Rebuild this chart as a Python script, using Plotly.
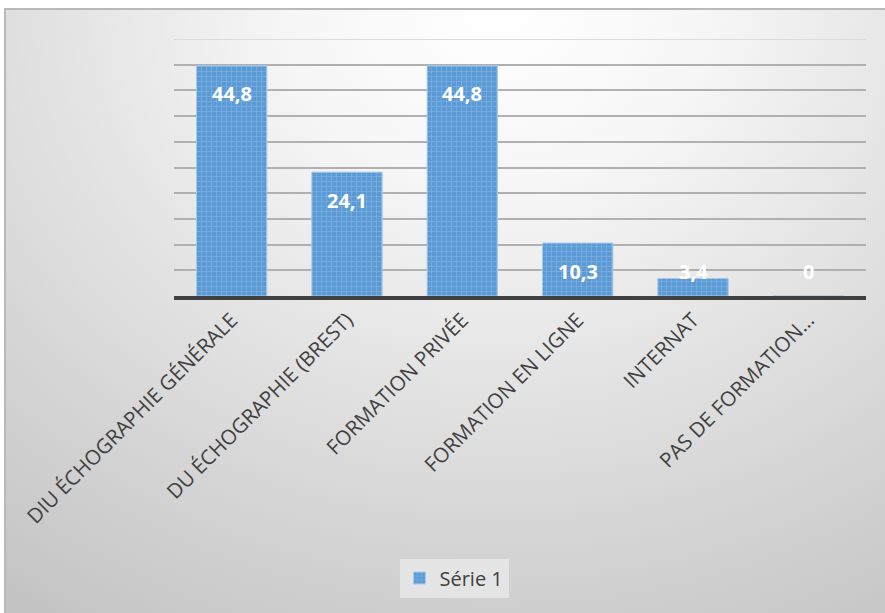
import base64
import plotly.graph_objects as go

categories = ["DIU ÉCHOGRAPHIE GÉNÉRALE", "DU ÉCHOGRAPHIE (BREST)", "FORMATION PRIVÉE",
              "FORMATION EN LIGNE", "INTERNAT", "PAS DE FORMATION…"]
values = [44.8, 24.1, 44.8, 10.3, 3.4, 0]
labels = ["44,8", "24,1", "44,8", "10,3", "3,4", "0"]
series_name = "Série 1"

W, H = 885, 613
L, R, T, B = 174, 19, 39, 317
pw, ph = W - L - R, H - T - B

svg = f'''<svg xmlns="http://www.w3.org/2000/svg" width="880" height="604" viewBox="0 0 880 604" preserveAspectRatio="none">
<defs><radialGradient id="g" cx="0.56" cy="0.0" r="0.95" gradientTransform="translate(0.56 0) scale(1 1.25) translate(-0.56 0)">
<stop offset="0" stop-color="#ffffff"/><stop offset="0.25" stop-color="#f6f6f6"/>
<stop offset="0.6" stop-color="#dedede"/><stop offset="1" stop-color="#c4c4c4"/></radialGradient></defs>
<rect x="0" y="0" width="880" height="604" fill="url(#g)"/></svg>'''
src = "data:image/svg+xml;base64," + base64.b64encode(svg.encode()).decode()

fig = go.Figure()
fig.add_trace(go.Bar(
    x=categories, y=values, name=series_name,
    marker=dict(color="#5b9bd5",
                line=dict(color="#a8c8ea", width=1),
                pattern=dict(shape="+", fgcolor="#a3c6ec", bgcolor="#5b9bd5", size=5, solidity=0.25)),
    showlegend=True, hoverinfo="skip",
))

for c, v, t in zip(categories, values, labels):
    fig.add_annotation(x=c, y=max(v, 10.3), text=f"<b>{t}</b>", showarrow=False,
                       yshift=-28, font=dict(color="white", size=20, family="Open Sans"))

px2x = lambda p: (p - L) / pw
px2y = lambda p: (H - B - p) / ph

fig.add_layout_image(dict(source=src, xref="paper", yref="paper",
                          x=px2x(5), y=px2y(9), sizex=880 / pw, sizey=604 / ph,
                          sizing="stretch", xanchor="left", yanchor="top", layer="below"))
fig.add_shape(type="rect", xref="paper", yref="paper",
              x0=px2x(5), x1=px2x(886), y0=px2y(9), y1=px2y(614),
              line=dict(color="#b9b9b9", width=2), layer="below")
fig.add_shape(type="line", xref="paper", yref="y", x0=0, x1=1, y0=50, y1=50,
              line=dict(color="#dcdcdc", width=2), layer="below")

fig.update_layout(
    width=W, height=H, margin=dict(l=L, r=R, t=T, b=B),
    paper_bgcolor="white", plot_bgcolor="rgba(0,0,0,0)",
    bargap=0.39,
    font=dict(family="Open Sans", color="#404040"),
    legend=dict(orientation="h", x=px2x(454), xanchor="center", y=px2y(578), yanchor="middle",
                bgcolor="rgba(236,236,236,0.7)", font=dict(size=20, color="#404040"),
                itemwidth=30),
    xaxis=dict(showline=True, linecolor="#404040", linewidth=4, tickangle=-45,
               tickfont=dict(size=20.5, color="#404040"), ticks="", showgrid=False),
    yaxis=dict(range=[0, 50], tickvals=[5, 10, 15, 20, 25, 30, 35, 40, 45],
               showticklabels=False, gridcolor="#b0b0b0", gridwidth=2,
               zeroline=False, showline=False),
)
fig.write_html("out.html")
